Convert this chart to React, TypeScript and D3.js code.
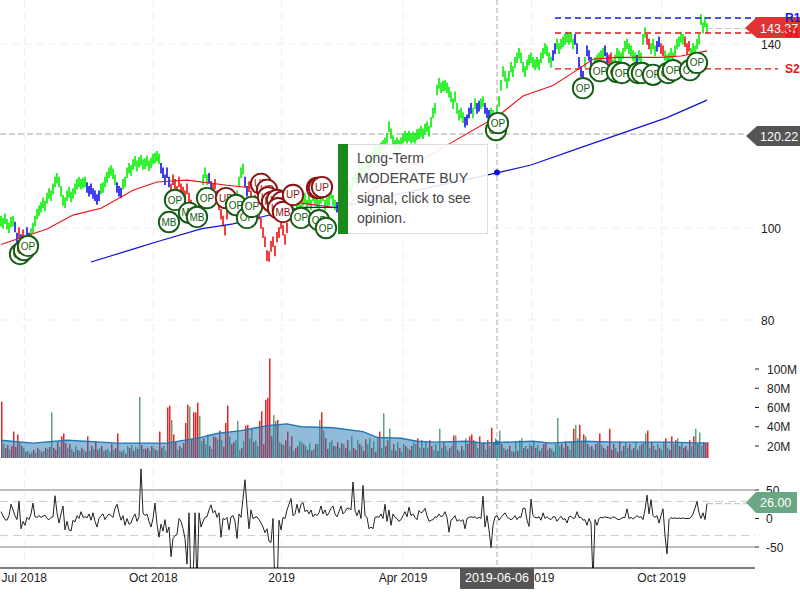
import React from "react";
import * as d3 from "d3";

const closes = [
101.5,101,102,100.8,100,101.3,101.5,100.2,97.8,99,
97.5,98.5,97,99,97.8,98.8,100,101.5,103,103.8,
104.5,105.5,104.8,106.5,107.5,107,108.5,110,110.8,110,
108,106,105.5,107,107.8,106.8,107.5,108.5,109.5,110,
109.5,109.8,110,108.8,108,108.5,107.5,107,106.2,107,
108.5,108.8,110,111,112,112.5,111.8,110.5,108.8,108,
107.6,109.5,110,112,113,112.5,113.8,114.5,113.5,114.3,
114.8,113.8,114,114.6,113.5,114.2,115,115.2,115.6,115,
113,112,110.5,112,110,108.5,110.5,109.5,108,110,
108.5,107.8,107,108.5,106.5,105,103.5,101.5,103,105,
107.5,110.5,112,110.5,110.8,109,108.5,109.5,107,105,
103,101.5,99.5,103,105,106,104,105,107,110,
112,112.8,110,108,109,107,105,106,104,103,
101,99,97,94,93.8,96,97,95,98,99,
101,99.5,97.5,100,103,103.5,104.5,103,105,105.5,
104,106,106.5,105,106,105,107,106,105.5,105,
106.5,107,105,105.5,106,107.5,106,105,104.5,105.5,
106.5,107.5,106.5,108,109,108,110,111,110,112,
112,113,112,114,113.5,115,116,117,116.5,117,
117.5,118,118.5,119.5,122,120.5,119,118,118.5,118,
118.5,119.5,120,119.5,120,119.5,119.8,119.5,120.3,120.5,
121,120.5,121.5,122,121,123,125,126,130,131.5,
130.5,130.8,131,130.5,129.5,128.5,127,128.5,126,124.5,
125,124,123,123.5,125,126,125,127,126,126.5,
127,127.5,126,125,124.5,125,124.5,123.5,125.5,127.5,
131,134,133,131.5,133,135,134,136,137,138,
137,135,134,135.5,136.5,137,136,135.5,136,135.5,
137,138,139,138.5,137,136,137.5,139,140,139,
140,140.5,141,141.5,141,141.5,140,141,139,136,
134,133,136,138.5,137.5,136,134.5,136,136.5,137,
137.5,138,138.5,137,136.5,137,135.5,136.5,138,137.5,
137,138,139.5,140,139,138.5,137.5,137,136.5,137.5,
137,141,142.5,141,140,139,140,138.5,139.5,140.5,
139,138.5,137.5,136.5,137,138,137,138.5,140,140.5,
141.5,141,140.5,139,139.5,138,139,138.5,140,141,
145.3,143.5,144.8,143.37];

const trendRuns: [number, string][] = [[7,"g"],[2,"b"],[1,"r"],[1,"b"],[1,"r"],[3,"b"],[28,"g"],[7,"b"],[8,"g"],[3,"b"],[19,"g"],[5,"b"],[15,"r"],[4,"g"],[2,"b"],[10,"r"],[6,"g"],[2,"b"],[21,"r"],[23,"g"],[2,"b"],[62,"g"],[4,"b"],[2,"g"],[2,"b"],[2,"g"],[3,"b"],[31,"g"],[2,"b"],[9,"g"],[5,"b"],[1,"g"],[3,"b"],[6,"g"],[2,"b"],[2,"r"],[12,"g"],[1,"b"],[4,"g"],[2,"r"],[3,"g"],[2,"b"],[2,"r"],[10,"g"],[3,"r"],[9,"g"]];

const shortMaDays = [0,23,36,50,66,78,93,113,126,140,150,170,225,249,261,276,285,296,308,330,340,353];
const shortMaVals = [96.4,99.8,102.8,104.3,108.2,110,110.4,109.3,108.7,107.2,105.4,104.3,118.5,124.5,128.7,131,133.5,136.7,137.1,137.1,137.4,138.5];
const longMaDays = [45,66,78,100,116,150,168,248,265,288,333,353];
const longMaVals = [92.6,95.4,97,99.8,100.9,104.5,104.5,112,113.7,117.2,124,127.8];

const volumes = [
-66,22,-18,-21,16,-20,-35,-19,-32,24,
-20,18,-14,15,-12,14,-16,13,-18,16,
-14,15,-18,17,-19,55,-18,-16,-24,19,
-30,-33,-23,18,-22,17,-14,20,-16,15,
-18,16,-14,-30,15,-20,17,-25,-16,18,
-20,15,-16,17,14,-22,16,-18,-33,15,
-14,16,-12,20,-18,21,-15,19,-17,71,
-21,17,-17,-18,15,-20,18,-16,15,-35,
-18,20,15,-60,-62,47,-32,-24,16,-20,
18,-23,-44,-63,61,-27,-55,-55,-65,51,
25,-28,22,32,-20,17,-30,-29,27,-36,
26,-19,-44,-62,30,-22,-24,26,46,16,
-18,25,-41,-42,28,38,-24,26,20,-46,
-56,-22,-68,-70,-111,-30,52,46,-47,24,
-22,21,-26,-35,20,-30,15,-18,-20,25,
24,-22,20,-16,23,-15,17,-22,22,47,
-55,36,-28,-17,24,26,-20,20,-24,18,
-23,22,-18,-26,15,30,-18,-16,26,-22,
20,-15,-27,22,28,-18,25,-14,30,-35,
18,54,-20,-26,38,16,-22,-15,24,-18,
14,22,-20,18,-16,-20,24,22,-28,18,
26,-18,24,18,-26,-20,16,22,-15,38,
18,-24,20,15,-18,20,-31,31,-16,14,
-20,16,28,-22,-30,-32,-26,25,18,-30,
22,-24,16,-26,20,-39,-24,28,20,36,
-22,18,-16,17,-20,15,-14,25,-15,26,
28,-18,20,-17,22,-20,24,-18,21,-15,
18,-22,-24,16,-18,17,-14,22,49,20,
-22,18,-25,-20,16,24,-38,42,28,-42,
25,-32,30,-22,19,-20,16,-22,24,-33,
21,-18,16,-20,-38,-16,-22,18,-14,-25,
15,-20,24,18,-22,16,-18,24,-16,20,
-22,24,33,-36,18,-24,20,-16,22,-18,
16,24,-28,18,-16,-30,22,-26,28,-20,
24,-18,-20,16,-26,20,-30,38,-22,34,
20,-24,-23,-24];

const volMaDays = [0,16,33,50,58,83,100,108,120,133,143,150,166,181,188,200,208,216,233,241,266,275,291,308,333,353];
const volMaVals = [26,23,26,24,23,23,29,33,36,41,43,40,39,35,29,28,25,24,25,23,25,23,25,24,24,23];

const oscillator = [
12,5,-2,-3,5,25,15,5,-2,30,
-18,-5,-12,2,-2,8,27,3,2,5,
2,4,6,0,-2,2,3,40,10,-8,
8,22,-20,-5,-20,-22,-3,-6,5,0,
12,2,3,1,8,-3,10,-5,-15,0,
5,8,-2,4,8,5,2,18,25,10,
-3,5,-12,0,-10,-8,2,8,-5,3,
87,10,5,8,-5,-15,0,27,-10,-33,
-10,-22,-2,-25,-15,-67,-35,-30,-28,0,
-5,-18,-35,-80,10,-120,-120,10,-120,10,
-15,-5,2,3,15,24,10,14,2,10,
-33,0,-2,2,-20,3,5,-5,-35,8,
2,35,68,20,-18,15,0,2,3,-2,
-8,-15,-25,-18,-40,-42,0,-130,-130,-3,
-20,2,0,15,25,35,5,8,25,10,
25,28,12,15,8,15,3,8,5,10,
22,8,15,5,10,18,22,8,3,12,
22,8,12,18,18,15,64,14,5,15,
0,58,5,2,-18,-15,-18,2,3,2,
8,0,25,-5,15,-12,8,2,0,-5,
-2,5,12,3,20,5,8,2,-2,14,
10,12,18,5,-5,-3,-2,3,2,8,
3,5,12,2,-24,-3,0,5,-5,-2,
-5,-2,-18,0,2,3,2,3,0,2,
0,39,-15,5,-20,-51,-12,3,5,-3,
2,6,10,3,0,-2,0,5,-2,3,
2,18,18,-3,-14,34,5,2,1,3,
-3,10,0,3,0,-2,3,3,-5,0,
4,-2,0,-8,3,4,0,1,12,2,
2,-3,-2,-12,0,-8,-110,-2,-12,0,
2,1,3,2,1,0,3,2,-1,-2,
0,2,2,17,0,2,-1,2,5,2,
3,-2,15,41,8,33,5,2,5,-8,
5,17,-30,-62,-2,2,0,1,0,1,
0,1,0,0,0,2,8,18,30,10,
0,10,-2,26];

const markerDays = [9.5,11.5,13.5,87,84,94,98,103,112.5,117.5,123,125.5,130,133,133.5,135.5,138,140.5,138.5,141,146,150,159,162.5,158,159,160.5,247.5,248.5,291,299.5,308,310.5,318.5,320.5,326,333.5,336,344.5,348];
const markerPrices = [94.35,95.2,96.1,106.1,101.3,103.3,102.4,106.5,106.5,105,102.2,104.6,109.6,108.3,106.7,105.7,106.1,105.7,104.3,103.5,107.2,102.2,101.7,100,108.7,108.7,108.9,121.3,122.8,130.4,134.1,133.9,133.7,133.7,133.7,133.3,133.7,134.3,134.3,135.9];
const markerLabels = ["OP","OP","OP","OP","MB","MB","MB","OP","UP","OP","OP","OP","UP","UP","UP","MB","UP","UP","UP","MB","UP","OP","OP","OP","UP","UP","UP","OP","OP","OP","OP","OP","OP","OP","OP","OP","OP","OP","OP","OP"];
const markerKinds = ["g","g","g","g","g","g","g","g","r","g","g","g","r","r","r","r","r","r","r","r","r","g","g","g","r","r","r","g","g","g","g","g","g","g","g","g","g","g","g","g"];

const xTickDays = [11.65,76.15,140.35,201,265.35,330.35];
const xTickLabels = ["Jul 2018","Oct 2018","2019","Apr 2019","Jul 2019","Oct 2019"];
const priceTicks = [140,100,80];
const volTicks = [100,80,60,40,20];
const oscTicks = [50,0,-50];
const tooltipLines = ["Long-Term","MODERATE BUY","signal, click to see","opinion."];
const levels = [{ name: "R1", price: 145.65, color: "#1515ee" }, { name: "S1", price: 142.4, color: "#e01515" }, { name: "S2", price: 134.6, color: "#e01515" }];
const crossDay = 248;

const font = "Arial, 'Liberation Sans', sans-serif";
const trendColor: Record<string, string> = { g: "#00ee00", b: "#1010ee", r: "#ee1010" };

function trendAt(i: number): string {
  let n = 0;
  for (const [c, k] of trendRuns) { n += c; if (i < n) return k; }
  return "g";
}

export default function App() {
  const x = d3.scaleLinear().domain([0, 353]).range([1, 707]);
  const y = d3.scaleLinear().domain([100, 140]).range([228, 44]);
  const v = d3.scaleLinear().domain([20, 100]).range([446, 369]);
  const o = d3.scaleLinear().domain([-50, 50]).range([547, 490]);
  const priceLine = d3.line<[number, number]>().x(d => x(d[0])).y(d => y(d[1]));
  const volPairs = volMaDays.map((d, i) => [d, volMaVals[i]] as [number, number]);
  const volLine = d3.line<[number, number]>().x(d => x(d[0])).y(d => v(d[1]));
  const volArea = d3.area<[number, number]>().x(d => x(d[0])).y0(458).y1(d => v(d[1]));
  const oscLine = d3.line<number>().x((_, i) => x(i)).y(d => o(d));
  const cx = x(crossDay);
  const last = closes[closes.length - 1];
  const lastOsc = oscillator[oscillator.length - 1];
  const crossLong = 172.6;
  return (
    <svg width={800} height={600} style={{ position: "absolute", left: 0, top: 0, fontFamily: font }}>
      <defs>
        <clipPath id="osc"><rect x={0} y={460} width={755} height={108} /></clipPath>
      </defs>
      <rect width={800} height={600} fill="#fff" />
      {xTickDays.map(d => (
        <line key={d} x1={x(d)} x2={x(d)} y1={0} y2={568} stroke="#eee" strokeWidth={1} strokeDasharray="8 4" />
      ))}
      {priceTicks.map(p => (
        <line key={p} x1={0} x2={755} y1={y(p)} y2={y(p)} stroke="#eee" strokeDasharray="8 4" />
      ))}
      <line x1={0} x2={745} y1={134} y2={134} stroke="#c4c4c4" strokeWidth={1.3} strokeDasharray="6 3" />

      {closes.map((c, i) => (
        <line key={i} x1={x(i)} x2={x(i)} y1={y(c + 1.15)} y2={y(c - 1.15)} stroke={trendColor[trendAt(i)]} strokeWidth={1.6} />
      ))}
      <path d={priceLine(shortMaDays.map((d, i) => [d, shortMaVals[i]]))!} fill="none" stroke="#ee1111" strokeWidth={1.1} />
      <path d={priceLine(longMaDays.map((d, i) => [d, longMaVals[i]]))!} fill="none" stroke="#1111dd" strokeWidth={1.2} />

      {levels.map(l => (
        <line key={l.name} x1={555} x2={778} y1={y(l.price)} y2={y(l.price)} stroke={l.color} strokeWidth={1.4} strokeDasharray="6 4" />
      ))}
      <line x1={707} x2={747} y1={y(last)} y2={y(last)} stroke="#c4c4c4" strokeWidth={1.2} strokeDasharray="6 3" />

      <line x1={cx} x2={cx} y1={0} y2={568} stroke="#aaa" strokeWidth={1} strokeDasharray="5 3" />
      <circle cx={cx} cy={crossLong} r={3} fill="#1111dd" />

      {markerDays.map((d, i) => {
        const c = markerKinds[i] === "r" ? "#8b1212" : "#145c14";
        return (
          <g key={i}>
            <circle cx={x(d)} cy={y(markerPrices[i])} r={10.2} fill="#fff" stroke={c} strokeWidth={1.9} />
            <text x={x(d)} y={y(markerPrices[i]) + 3.6} textAnchor="middle" fontSize={10} fill={c}>{markerLabels[i]}</text>
          </g>
        );
      })}

      <rect x={338.5} y={144.5} width={149} height={89} fill="#fff" fillOpacity={0.88} stroke="#ddd" />
      <rect x={338} y={144} width={10} height={90} fill="#1a8a1a" />
      {tooltipLines.map((t, i) => (
        <text key={t} x={357} y={163 + i * 20} fontSize={14} fill="#444">{t}</text>
      ))}

      {volumes.map((val, i) => (
        <rect key={i} x={Math.round(x(i))} width={1.5} y={v(Math.abs(val))} height={458 - v(Math.abs(val))} fill={val < 0 ? "#ee2222" : "#5fa27c"} />
      ))}
      <path d={volArea(volPairs)!} fill="#1f77b4" fillOpacity={0.5} />
      <path d={volLine(volPairs)!} fill="none" stroke="#1f77b4" strokeWidth={1.4} />
      <circle cx={cx} cy={443} r={2.5} fill="#1f77b4" />

      {[50, -50].map(t => <line key={t} x1={0} x2={755} y1={o(t)} y2={o(t)} stroke="#aaa" strokeWidth={1.6} />)}
      {[30, -30].map(t => <line key={t} x1={0} x2={755} y1={o(t)} y2={o(t)} stroke="#ccc" strokeWidth={1} strokeDasharray="8 5" />)}
      <path d={oscLine(oscillator)!} fill="none" stroke="#222" strokeWidth={1} clipPath="url(#osc)" />
      <line x1={707} x2={747} y1={o(lastOsc)} y2={o(lastOsc)} stroke="#bbb" strokeDasharray="6 3" />
      <line x1={0} x2={755} y1={568} y2={568} stroke="#000" strokeWidth={1} />

      {xTickDays.map((d, i) => (
        <text key={d} x={x(d)} y={582} textAnchor="middle" fontSize={12} fill="#222">{xTickLabels[i]}</text>
      ))}
      <rect x={460} y={568} width={74} height={21} fill="#555" />
      <text x={497} y={582} textAnchor="middle" fontSize={12.5} fill="#fff">2019-06-06</text>

      {priceTicks.map(p => (
        <text key={p} x={761} y={y(p) + 4.5} fontSize={12} fill="#222">{p}</text>
      ))}
      {volTicks.map(t => (
        <g key={t}>
          <line x1={755} x2={759} y1={v(t)} y2={v(t)} stroke="#222" />
          <text x={767} y={v(t) + 4.5} fontSize={12} fill="#222">{t}M</text>
        </g>
      ))}
      {oscTicks.map(t => (
        <g key={t}>
          <line x1={755} x2={759} y1={o(t)} y2={o(t)} stroke="#222" />
          <text x={766} y={o(t) + 4.5} fontSize={12} fill="#222">{t}</text>
        </g>
      ))}

      <polygon points="745,28 757,17 800,17 800,38 757,38" fill="#e03232" />
      <text x={760} y={33} fontSize={12.5} fill="#fff">{last.toFixed(2)}</text>
      <polygon points="746,136 757,126 800,126 800,146 757,146" fill="#555" />
      <text x={760} y={140.5} fontSize={12.5} fill="#fff">120.22</text>
      <polygon points="746,502.5 756,492 797,492 797,513 756,513" fill="#6aa885" />
      <text x={760} y={507} fontSize={12.5} fill="#fff">{lastOsc.toFixed(2)}</text>

      {levels.map(l => (
        <text key={l.name} x={785} y={y(l.price) + 4} fontSize={12} fontWeight={700} fill={l.color}>{l.name}</text>
      ))}
    </svg>
  );
}
